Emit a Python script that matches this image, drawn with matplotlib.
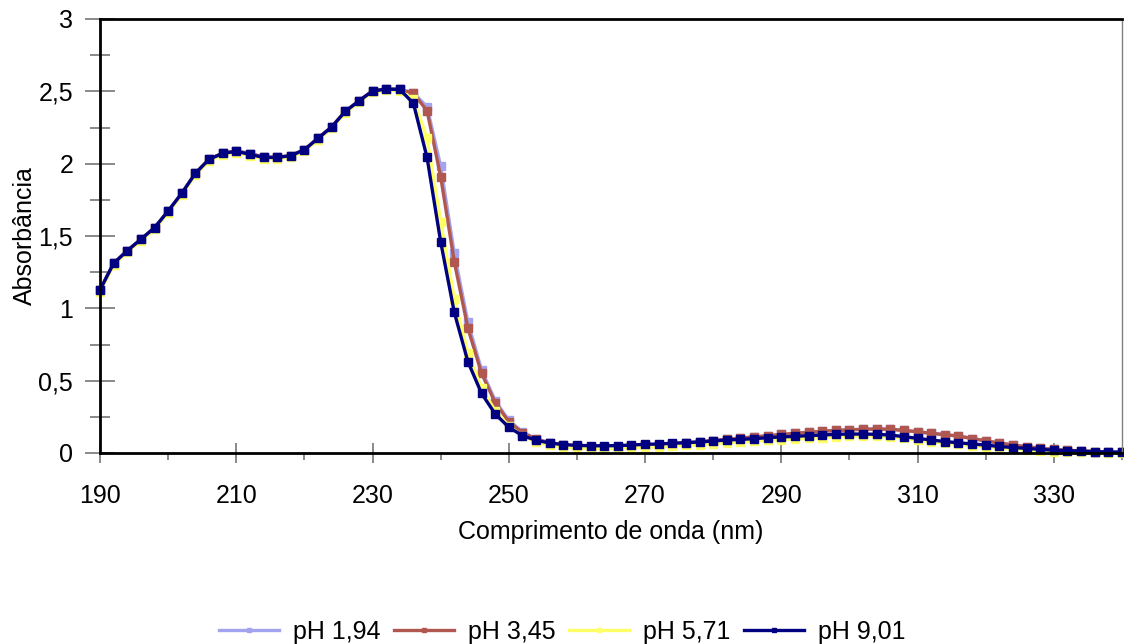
import matplotlib as mpl
mpl.use("Agg")
import matplotlib.pyplot as plt
import matplotlib.ticker as ticker

mpl.rcParams['font.family'] = ['Liberation Sans', 'DejaVu Sans']
mpl.rcParams['font.size'] = 18

# wavelengths every 2 nm, 190 -> 340
wavelength = list(range(190, 342, 2))

# pH 9,01 (navy, on top)
abs_ph901 = [
    1.127, 1.311, 1.398, 1.477, 1.557, 1.672, 1.795, 1.933, 2.030, 2.071,
    2.085, 2.064, 2.043, 2.043, 2.055, 2.096, 2.175, 2.253, 2.361, 2.433,
    2.502, 2.515, 2.513, 2.417, 2.043, 1.460, 0.972, 0.631, 0.412, 0.270,
    0.178, 0.120, 0.088, 0.069, 0.058, 0.053, 0.050, 0.050, 0.051, 0.055,
    0.060, 0.062, 0.067, 0.071, 0.076, 0.083, 0.090, 0.094, 0.099, 0.106,
    0.111, 0.115, 0.120, 0.124, 0.129, 0.131, 0.131, 0.129, 0.124, 0.113,
    0.101, 0.090, 0.079, 0.071, 0.062, 0.055, 0.045, 0.038, 0.032, 0.025,
    0.019, 0.016, 0.013, 0.009, 0.007, 0.005,
]

# pH 3,45 (brown red)
abs_ph345 = [
    1.127, 1.311, 1.398, 1.477, 1.557, 1.672, 1.795, 1.933, 2.030, 2.073,
    2.088, 2.070, 2.046, 2.044, 2.056, 2.097, 2.176, 2.254, 2.362, 2.434,
    2.503, 2.516, 2.514, 2.486, 2.366, 1.910, 1.322, 0.862, 0.551, 0.348,
    0.216, 0.140, 0.095, 0.070, 0.055, 0.047, 0.043, 0.042, 0.044, 0.048,
    0.053, 0.058, 0.064, 0.070, 0.078, 0.086, 0.094, 0.103, 0.111, 0.119,
    0.128, 0.136, 0.143, 0.150, 0.156, 0.160, 0.164, 0.166, 0.164, 0.156,
    0.147, 0.136, 0.127, 0.117, 0.100, 0.084, 0.069, 0.055, 0.043, 0.033,
    0.025, 0.019, 0.014, 0.010, 0.006, 0.004,
]

# pH 1,94 (light blue, mostly under pH 3,45)
abs_ph194 = [
    1.127, 1.311, 1.398, 1.477, 1.557, 1.672, 1.795, 1.933, 2.030, 2.073,
    2.088, 2.070, 2.046, 2.044, 2.056, 2.097, 2.176, 2.254, 2.362, 2.434,
    2.503, 2.516, 2.514, 2.490, 2.393, 1.983, 1.380, 0.903, 0.574, 0.362,
    0.226, 0.146, 0.098, 0.071, 0.055, 0.047, 0.043, 0.042, 0.044, 0.048,
    0.053, 0.058, 0.064, 0.070, 0.078, 0.086, 0.094, 0.103, 0.111, 0.119,
    0.128, 0.136, 0.143, 0.150, 0.156, 0.160, 0.164, 0.166, 0.164, 0.156,
    0.147, 0.136, 0.127, 0.117, 0.100, 0.084, 0.069, 0.055, 0.043, 0.033,
    0.025, 0.019, 0.014, 0.010, 0.006, 0.004,
]

# pH 5,71 (yellow, slightly below navy)
abs_ph571 = [
    1.115, 1.300, 1.388, 1.467, 1.547, 1.662, 1.785, 1.923, 2.020, 2.062,
    2.076, 2.055, 2.034, 2.034, 2.046, 2.087, 2.166, 2.244, 2.352, 2.424,
    2.494, 2.507, 2.505, 2.444, 2.175, 1.599, 1.062, 0.689, 0.447, 0.292,
    0.187, 0.118, 0.078, 0.055, 0.040, 0.033, 0.030, 0.030, 0.032, 0.036,
    0.041, 0.044, 0.049, 0.053, 0.058, 0.065, 0.072, 0.076, 0.081, 0.088,
    0.093, 0.097, 0.102, 0.107, 0.113, 0.116, 0.117, 0.116, 0.112, 0.101,
    0.089, 0.078, 0.067, 0.059, 0.050, 0.043, 0.034, 0.027, 0.021, 0.015,
    0.010, 0.008, 0.006, 0.004, 0.003, 0.002,
]

series_labels = ['pH 1,94', 'pH 3,45', 'pH 5,71', 'pH 9,01']
series_colors = ['#a3a3f0', '#b0584f', '#ffff66', '#000080']

x_major = list(range(190, 331, 20))
y_major = [0, 0.5, 1, 1.5, 2, 2.5, 3]
y_labels = ['0', '0,5', '1', '1,5', '2', '2,5', '3']

fig = plt.figure(figsize=(11.24, 6.44), dpi=100)
ax = fig.add_axes([100 / 1124, 1 - 453 / 644, 1022 / 1124, 434 / 644])

all_series = [abs_ph194, abs_ph345, abs_ph571, abs_ph901]
for vals, lab, col in zip(all_series, series_labels, series_colors):
    ax.plot(wavelength, vals, color=col, lw=2.4, marker='s', ms=5.2,
            mec=col, mfc=col, label=lab, clip_on=False)

ax.set_xlim(190, 340)
ax.set_ylim(0, 3)

ax.set_xticks(x_major)
ax.xaxis.set_minor_locator(ticker.MultipleLocator(10))
ax.set_yticks(y_major)
ax.set_yticklabels(y_labels)
ax.yaxis.set_minor_locator(ticker.MultipleLocator(0.25))

ax.tick_params(axis='x', which='major', direction='inout', length=14.4,
               width=1.3, color='#808080', pad=15)
ax.tick_params(axis='x', which='minor', direction='out', length=5,
               width=1.3, color='#808080')
ax.tick_params(axis='y', which='major', direction='inout', length=21.6,
               width=1.3, color='#808080', pad=8.5)
ax.tick_params(axis='y', which='minor', direction='inout', length=14.4,
               width=1.3, color='#808080')

for side in ['left', 'bottom', 'top']:
    ax.spines[side].set_color('black')
    ax.spines[side].set_linewidth(2)
ax.spines['right'].set_color('#808080')
ax.spines['right'].set_linewidth(1)

ax.set_xlabel('Comprimento de onda (nm)')
ax.xaxis.label.set_va('center')
ax.xaxis.set_label_coords(0.5, -0.182)
ax.set_ylabel('Absorbância')
ax.yaxis.label.set_va('center')
ax.yaxis.set_label_coords(-0.073, 0.5)

fig.legend(loc='center', bbox_to_anchor=(0.5, 1 - 632 / 644), ncol=4,
           frameon=False, handlelength=2.4, handletextpad=0.55,
           columnspacing=0.55, markerscale=0.65)

fig.savefig('out.png', dpi=100)
